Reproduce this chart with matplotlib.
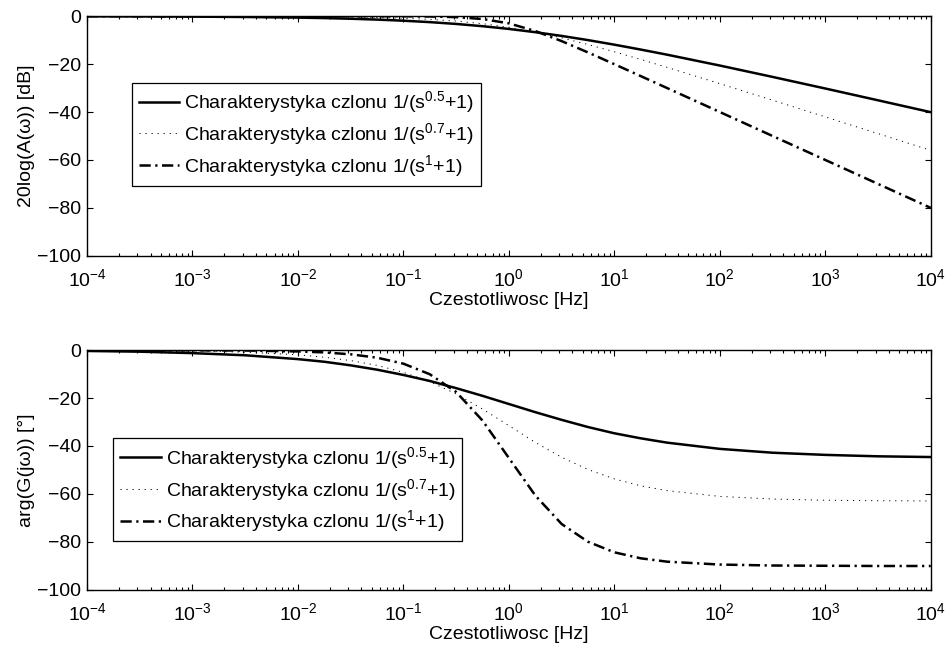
import matplotlib
matplotlib.use("Agg")
import matplotlib.pyplot as plt

plt.rcParams['font.family'] = ['Liberation Sans', 'DejaVu Sans']
plt.rcParams['mathtext.fontset'] = 'custom'
plt.rcParams['mathtext.rm'] = 'Liberation Sans'
plt.rcParams['mathtext.default'] = 'regular'
plt.rcParams['font.size'] = 14

# czestotliwosc (rad/s), co cwierc dekady w srodku, co pol dekady na koncach
freq = [1e-4, 10**-3.5, 1e-3, 10**-2.5, 1e-2, 10**-1.75, 10**-1.5, 10**-1.25,
        1e-1, 10**-0.75, 10**-0.5, 10**-0.25, 1.0, 10**0.25, 10**0.5, 10**0.75,
        10.0, 10**1.25, 10**1.5, 1e2, 10**2.5, 1e3, 10**3.5, 1e4]

# amplituda [dB]
mag_05 = [-0.06, -0.11, -0.19, -0.35, -0.61, -0.81, -1.08, -1.44, -1.90, -2.49,
          -3.25, -4.19, -5.33, -6.69, -8.25, -9.99, -11.90, -13.94, -16.08,
          -20.61, -25.35, -30.19, -35.11, -40.06]
mag_07 = [-0.01, -0.01, -0.03, -0.07, -0.16, -0.24, -0.37, -0.56, -0.87, -1.34,
          -2.06, -3.13, -4.64, -6.63, -9.06, -11.84, -14.87, -18.06, -21.37,
          -28.16, -35.07, -42.03, -49.01, -56.01]
mag_10 = [0.0, 0.0, 0.0, 0.0, 0.0, 0.0, 0.0, -0.01, -0.04, -0.14,
          -0.41, -1.19, -3.01, -6.19, -10.41, -15.14, -20.04, -25.01, -30.0,
          -40.0, -50.0, -60.0, -70.0, -80.0]

# faza [deg]
ph_05 = [-0.4, -0.7, -1.3, -2.2, -3.8, -4.9, -6.4, -8.2, -10.4, -12.9,
         -15.9, -19.1, -22.5, -25.9, -29.1, -32.1, -34.7, -36.8, -38.6,
         -41.2, -42.8, -43.7, -44.3, -44.6]
ph_07 = [-0.1, -0.2, -0.4, -0.9, -2.0, -3.0, -4.4, -6.4, -9.3, -13.2,
         -18.3, -24.6, -31.5, -38.5, -44.7, -49.8, -53.7, -56.6, -58.6,
         -61.0, -62.1, -62.6, -62.8, -62.9]
ph_10 = [0.0, 0.0, -0.1, -0.2, -0.6, -1.0, -1.8, -3.2, -5.7, -10.1,
         -17.5, -29.4, -45.0, -60.6, -72.5, -79.9, -84.3, -86.8, -88.2,
         -89.4, -89.8, -89.9, -90.0, -90.0]

labels = ['Charakterystyka czlonu 1/(s$^{0.5}$+1)',
          'Charakterystyka czlonu 1/(s$^{0.7}$+1)',
          'Charakterystyka czlonu 1/(s$^{1}$+1)']

yticks = [0, -20, -40, -60, -80, -100]
xticks = [1e-4, 1e-3, 1e-2, 1e-1, 1e0, 1e1, 1e2, 1e3, 1e4]

fig = plt.figure(figsize=(9.48, 6.46), dpi=100)
ax1 = fig.add_axes([0.0918, 0.604, 0.890, 0.371])
ax2 = fig.add_axes([0.0918, 0.0867, 0.890, 0.3715])


def draw(ax, y1, y2, y3, ylabel, legend_y):
    ax.semilogx(freq, y1, color='k', lw=1.8, ls='-', label=labels[0])
    ax.semilogx(freq, y2, color='k', lw=0.7, dashes=(1.2, 5), label=labels[1])
    ax.semilogx(freq, y3, color='k', lw=1.8, dashes=(4.5, 1.8, 0.9, 1.8), label=labels[2])
    ax.set_xlim(1e-4, 1e4)
    ax.set_ylim(-100, 0)
    ax.set_xticks(xticks)
    ax.set_yticks(yticks)
    ax.set_xlabel('Czestotliwosc [Hz]', labelpad=1)
    ax.set_ylabel(ylabel, labelpad=2)
    for sp in ax.spines.values():
        sp.set_linewidth(1.0)
    ax.tick_params(which='both', direction='in', top=True, right=True, width=0.8)
    ax.tick_params(axis='x', which='major', length=4.5, pad=9)
    ax.tick_params(axis='y', which='major', length=4.5, pad=4)
    ax.tick_params(which='minor', length=2.5)
    leg = ax.legend(loc='upper left', bbox_to_anchor=legend_y, fancybox=False,
                    edgecolor='k', framealpha=1, borderaxespad=0,
                    handlelength=2.1, handletextpad=0.25, labelspacing=0.3,
                    borderpad=0.35)
    leg.get_frame().set_linewidth(0.9)


draw(ax1, mag_05, mag_07, mag_10, '20log(A(ω)) [dB]', (0.053, 0.723))
draw(ax2, ph_05, ph_07, ph_10, 'arg(G(jω)) [°]', (0.031, 0.633))

fig.savefig('out.png', dpi=100)
